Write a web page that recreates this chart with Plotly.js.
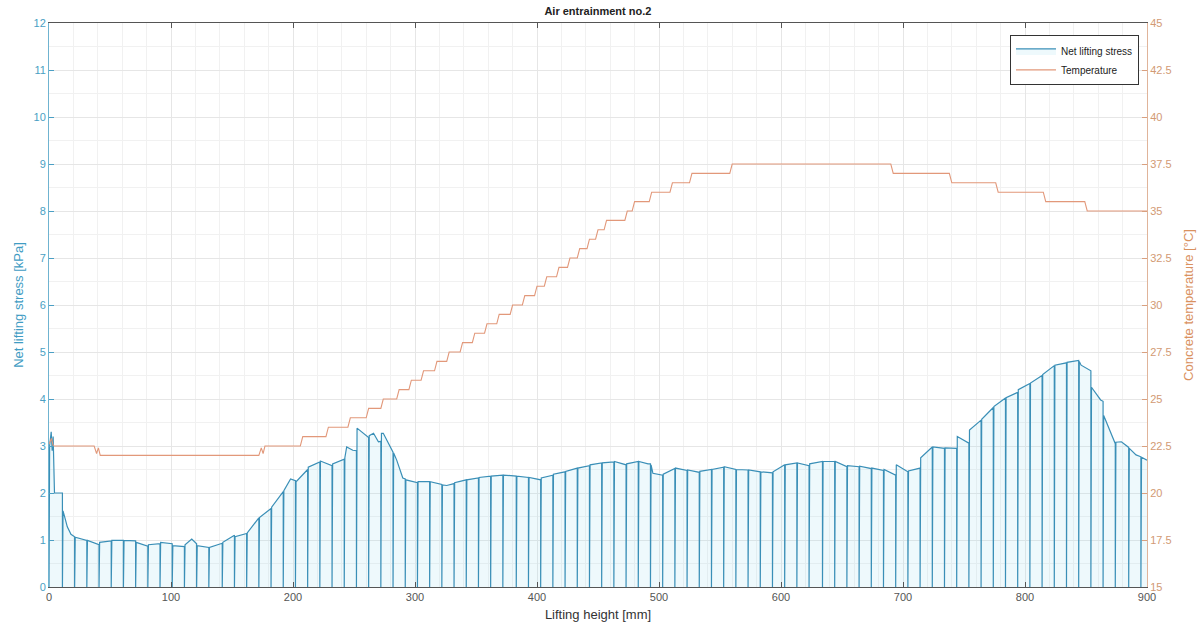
<!DOCTYPE html>
<html>
<head>
<meta charset="utf-8">
<script src="https://cdn.plot.ly/plotly-3.0.1.min.js"></script>
<style>html,body{margin:0;padding:0;background:#fff;}#chart{width:1203px;height:633px;}</style>
</head>
<body>
<div id="chart"></div>
<script>
// Net lifting stress: positions where the signal drops to zero, value just before and just after each drop
const dropX = [11,21,31,41,51,61,71,81,91,101,111,121,131,142,152,162,172,182,192,202,212,222,232,242,252,262,272,282,292,302,312,322,332,342,352,362,372,383,393,403,413,423,433,443,453,463,473,483,493,503,513,523,533,543,553,563,573,583,593,603,613,623,634,644,654,664,674,684,694,704,714,724,734,744,754,764,774,784,794,804,814,824,834,844,854,864,874,885,895];
const dropBefore = [2.0,1.07,0.99,0.90,0.98,0.99,0.98,0.87,0.92,0.92,
  0.86,0.92,0.84,0.93,1.10,1.14,1.47,1.67,2.03,2.26,
  2.50,2.66,2.58,2.72,2.90,3.18,3.10,2.87,2.30,2.22,
  2.24,2.18,2.20,2.28,2.32,2.36,2.38,2.36,2.33,2.28,
  2.38,2.45,2.53,2.58,2.64,2.66,2.60,2.67,2.62,2.38,
  2.52,2.48,2.44,2.50,2.55,2.50,2.49,2.45,2.43,2.60,
  2.64,2.58,2.67,2.67,2.56,2.56,2.52,2.48,2.38,2.45,
  2.53,2.98,2.95,2.95,3.06,3.55,3.82,4.02,4.14,4.33,
  4.50,4.71,4.77,4.82,4.60,3.95,3.05,2.97,2.77];
const dropAfter = [1.62,1.06,0.99,0.95,0.99,0.99,0.95,0.90,0.95,0.88,
  0.90,0.88,0.84,0.95,1.07,1.15,1.48,1.70,2.05,2.24,
  2.55,2.68,2.62,2.75,3.38,3.22,3.27,2.85,2.28,2.24,
  2.24,2.17,2.22,2.28,2.33,2.36,2.38,2.36,2.33,2.32,
  2.40,2.46,2.53,2.60,2.64,2.67,2.62,2.67,2.60,2.40,
  2.53,2.49,2.46,2.50,2.56,2.50,2.49,2.45,2.45,2.60,
  2.64,2.62,2.67,2.67,2.58,2.57,2.53,2.50,2.60,2.47,
  2.75,2.98,2.96,3.20,3.34,3.57,3.84,4.03,4.20,4.34,
  4.52,4.72,4.78,4.80,4.25,3.65,3.08,2.95,2.76];
// Net lifting stress: additional points between drops
const stressExtraX = [0,0.5,1.8,2.6,3.4,4.5,13.5,15,18,117,198,244,249,266,270,274,285,290,326,491,495,846,853,862,879,891,900];
const stressExtraY = [0,3.0,3.3,2.9,3.2,2.0,1.43,1.28,1.12,1.02,2.30,2.98,2.91,3.27,3.09,3.27,2.70,2.32,2.16,2.62,2.42,4.72,4.62,3.98,3.09,2.81,2.70];

// Concrete temperature
const tempX = [0,2,3.5,5,37,39,40.5,42,172,174,175.5,177,206,208,227,229,245,247,260,262,272,274,285,287,295,297,305,307,316,318,326,328,337,339,347,349,357,359,367,369,378,380,388,390,398,400,406,408,416,418,425,427,433,435,441,443,448,450,455,457,472,474,478,480,492,494,509,511,525,527,558,560,690,692,738,740,776,778,815,817,849,851,900];
const tempY = [22.6,22.9,22.5,22.5,22.5,22.1,22.4,22.0,22.0,22.4,22.1,22.5,22.5,23.0,23.0,23.5,23.5,24.0,24.0,24.5,24.5,25.0,25.0,25.5,25.5,26.0,26.0,26.5,26.5,27.0,27.0,27.5,27.5,28.0,28.0,28.5,28.5,29.0,29.0,29.5,29.5,30.0,30.0,30.5,30.5,31.0,31.0,31.5,31.5,32.0,32.0,32.5,32.5,33.0,33.0,33.5,33.5,34.0,34.0,34.5,34.5,35.0,35.0,35.5,35.5,36.0,36.0,36.5,36.5,37.0,37.0,37.5,37.5,37.0,37.0,36.5,36.5,36.0,36.0,35.5,35.5,35.0,35.0];

// merge stress points
const pts = [];
stressExtraX.forEach((x, i) => pts.push({x: x, y: stressExtraY[i], s: 0}));
dropX.forEach((d, i) => {
  pts.push({x: d, y: dropBefore[i], s: 0});
  pts.push({x: d, y: 0, s: 1});
  pts.push({x: d + 0.5, y: dropAfter[i], s: 0});
});
pts.sort((a, b) => (a.x - b.x) || (a.s - b.s));
const sx = pts.map(p => p.x), sy = pts.map(p => p.y);

const FONT = 'Liberation Sans, Arial, sans-serif';
const blue = '#3a8fb7';
const orange = '#e2987a';

const traces = [
  {
    x: sx, y: sy, type: 'scatter', mode: 'lines', name: 'Net lifting stress',
    line: {color: blue, width: 1.2}, fill: 'tozeroy', fillcolor: 'rgba(160,220,240,0.18)',
    xaxis: 'x', yaxis: 'y'
  },
  {
    x: tempX, y: tempY, type: 'scatter', mode: 'lines', name: 'Temperature',
    line: {color: orange, width: 1.1}, xaxis: 'x', yaxis: 'y2'
  }
];

const layout = {
  width: 1203, height: 633,
  margin: {l: 49, r: 56, t: 23, b: 46},
  paper_bgcolor: '#fff', plot_bgcolor: '#fff',
  font: {family: FONT, size: 11, color: '#444'},
  title: {text: '<b>Air entrainment no.2</b>', font: {family: FONT, size: 11, color: '#222'},
          x: 0.497, xref: 'container', y: 0.982, yref: 'container', yanchor: 'middle'},
  showlegend: true,
  legend: {x: 0.9927, xanchor: 'right', y: 0.978, yanchor: 'top', bgcolor: '#fff',
           bordercolor: '#333', borderwidth: 1, font: {family: FONT, size: 10, color: '#222'},
           tracegroupgap: 0, itemwidth: 40},
  xaxis: {
    range: [0, 900], dtick: 100, tick0: 0,
    showgrid: true, gridcolor: '#e6e6e6', gridwidth: 1,
    minor: {dtick: 20, showgrid: true, gridcolor: '#f1f1f1', gridwidth: 1},
    ticks: 'inside', ticklen: 5, tickcolor: '#555', showline: true, linecolor: '#555', linewidth: 1,
    mirror: 'ticks', zeroline: false,
    tickfont: {family: FONT, size: 11, color: '#555'},
    title: {text: 'Lifting height [mm]', font: {family: FONT, size: 13, color: '#333'}, standoff: 7}
  },
  yaxis: {
    range: [0, 12], dtick: 1, tick0: 0,
    showgrid: true, gridcolor: '#e6e6e6', gridwidth: 1,
    minor: {dtick: 0.5, showgrid: true, gridcolor: '#f1f1f1', gridwidth: 1},
    ticks: 'inside', ticklen: 5, tickcolor: '#4a9fc4', showline: true, linecolor: '#6fb3d0', linewidth: 1,
    zeroline: false,
    tickfont: {family: FONT, size: 11, color: '#4a9fc4'},
    title: {text: 'Net lifting stress [kPa]', font: {family: FONT, size: 13, color: '#3f9cc3'}, standoff: 6}
  },
  yaxis2: {
    range: [15, 45], dtick: 2.5, tick0: 15, overlaying: 'y', side: 'right',
    showgrid: false, zeroline: false,
    ticks: 'inside', ticklen: 5, tickcolor: '#d9a07f', showline: true, linecolor: '#e0b49a', linewidth: 1,
    tickfont: {family: FONT, size: 11, color: '#d29a74'},
    title: {text: 'Concrete temperature [°C]', font: {family: FONT, size: 13, color: '#d9915f'}, standoff: 13}
  }
};

Plotly.newPlot('chart', traces, layout, {displayModeBar: false, staticPlot: true});
</script>
</body>
</html>
